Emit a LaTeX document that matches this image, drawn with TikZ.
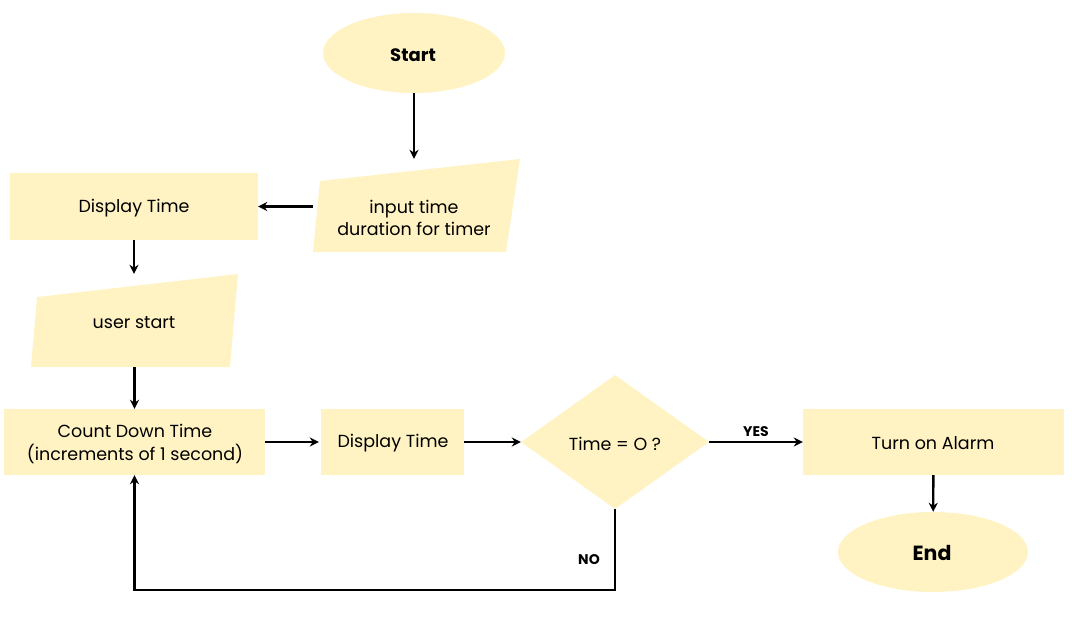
\documentclass[tikz,border=0pt]{standalone}
\usepackage{fontspec}
\setmainfont{Poppins}
\usetikzlibrary{shapes.geometric,arrows.meta,calc}
\definecolor{boxc}{RGB}{255,243,196}
\begin{document}
\begin{tikzpicture}[x=1pt,y=-1pt,
 box/.style={rectangle,fill=boxc, draw=none, inner sep=0pt, align=center, font=\fontsize{17.5}{23}\selectfont},
 ghost/.style={rectangle, draw=none, inner sep=0pt},
 txt/.style={align=center, inner sep=0pt, font=\fontsize{17.5}{22}\selectfont},
 term/.style={ellipse, fill=boxc, draw=none, inner sep=0pt},
 arr/.style={line width=2.4pt, -{Stealth[length=9pt,width=9pt]}},
 lab/.style={font=\bfseries\fontsize{14}{16}\selectfont}]
\useasboundingbox (0,0) rectangle (1072,622);
% start
\node[term, minimum width=182pt, minimum height=80pt] (start) at (414,53) {};
\node[font=\bfseries\fontsize{18}{20}\selectfont, inner sep=0pt] (starttxt) at (413,55) {Start};
% input
\fill[boxc] (320,181) -- (520,159) -- (506,252) -- (313,252) -- cycle;
\node[ghost, minimum width=207pt, minimum height=93pt] (inp) at (416.5,205.5) {};
\node[txt] (inptxt) at (414,218) {input time\\duration for timer};
% display 1
\node[box, minimum width=248pt, minimum height=67pt] (disp1) at (134,206.5) {};
\node[txt] (disp1txt) at (134,208) {Display Time};
% user start
\fill[boxc] (37,297) -- (238,274) -- (230,367) -- (31,367) -- cycle;
\node[ghost, minimum width=207pt, minimum height=93pt] (usr) at (134.5,320.5) {};
\node[txt] (usrtxt) at (134,323) {user start};
% count
\node[box, minimum width=261pt, minimum height=66pt] (count) at (134.5,442) {};
\node[txt, font=\fontsize{17.5}{23}\selectfont] (counttxt) at (135,444) {Count Down Time\\(increments of 1 second)};
\node[box, minimum width=143pt, minimum height=66pt] (disp2) at (392.5,442) {};
\node[txt] (disp2txt) at (393,443.5) {Display Time};
\node[diamond, fill=boxc, draw=none, inner sep=0pt, minimum width=188pt, minimum height=134pt] (dec) at (615,442) {};
\node[txt] (dectxt) at (615,443.5) {Time = O ?};
\node[box, minimum width=261pt, minimum height=66pt] (alarm) at (933.5,442) {};
\node[txt] (alarmtxt) at (933,443.5) {Turn on Alarm};
\node[term, minimum width=190pt, minimum height=80pt] (end) at (933,552) {};
\node[font=\bfseries\fontsize{20.5}{22}\selectfont, inner sep=0pt] (endtxt) at (932,553) {End};
\coordinate (loop) at (134.5,590);
% connectors
\draw[arr] (start.south) -- (start.south |- inp.north);
\draw[arr] (inp.west |- disp1) -- (disp1.east);
\draw[arr] (disp1.south) -- (disp1.south |- usr.north);
\draw[arr] (usr.south) -- (count.north);
\draw[arr, shorten >=2pt] (count) -- (disp2);
\draw[arr] (disp2) -- (dec);
\draw[arr] (dec) -- (alarm);
\node[lab] (yes) at (756,432) {YES};
\draw[arr] (alarm) -- (end);
\draw[arr] (dec.south) |- (loop) -- (count.south);
\node[lab] (no) at (589,560) {NO};
\end{tikzpicture}
\end{document}
